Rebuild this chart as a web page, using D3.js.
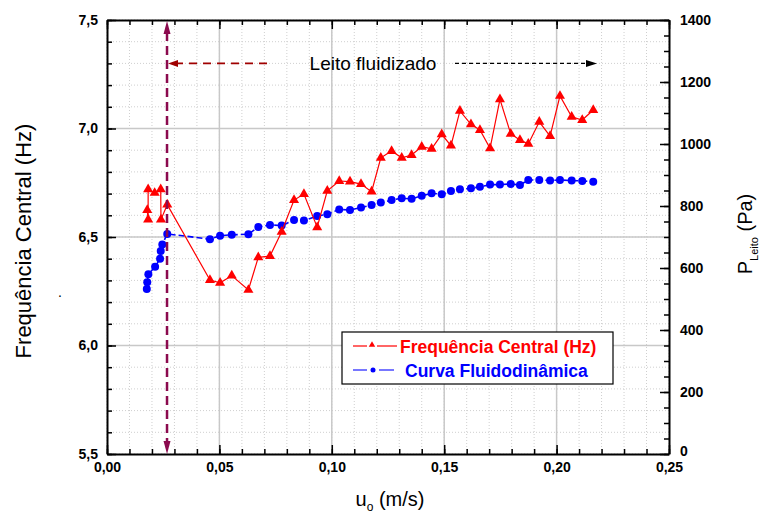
<!DOCTYPE html>
<html>
<head>
<meta charset="utf-8">
<script src="https://cdn.jsdelivr.net/npm/d3@7"></script>
<style>
  html, body { margin: 0; padding: 0; background: #fff; }
  svg { display: block; font-family: Arial, "Liberation Sans", sans-serif; }
</style>
</head>
<body>
<svg id="chart" width="761" height="516"></svg>
<script>
// Superficial velocity u0 (m/s) and measured series
const freqVelocity = [0.0179, 0.0183, 0.0183, 0.0212, 0.0239, 0.0240, 0.0268,
  0.0458, 0.0503, 0.0555, 0.0629, 0.0673, 0.0725, 0.0777, 0.0832, 0.0876, 0.0935,
  0.0980, 0.1033, 0.1081, 0.1130, 0.1177, 0.1218, 0.1266, 0.1311, 0.1355, 0.1400,
  0.1444, 0.1489, 0.1530, 0.1570, 0.1619, 0.1659, 0.1704, 0.1748, 0.1796, 0.1837,
  0.1874, 0.1923, 0.1971, 0.2015, 0.2067, 0.2114, 0.2163];
const centralFrequency = [6.624, 6.580, 6.720, 6.703, 6.720, 6.580, 6.649,
  6.302, 6.289, 6.322, 6.256, 6.406, 6.412, 6.524, 6.670, 6.698, 6.545,
  6.713, 6.758, 6.755, 6.744, 6.709, 6.865, 6.896, 6.865, 6.878, 6.916,
  6.906, 6.973, 6.921, 7.081, 7.019, 6.993, 6.909, 7.134, 6.975, 6.947,
  6.929, 7.031, 6.965, 7.150, 7.054, 7.039, 7.085];

const pressureVelocity = [0.0177, 0.0179, 0.0184, 0.0214, 0.0236, 0.0239, 0.0246, 0.0268,
  0.0458, 0.0503, 0.0555, 0.0629, 0.0673, 0.0725, 0.0777, 0.0832, 0.0876, 0.0935,
  0.0980, 0.1033, 0.1081, 0.1130, 0.1177, 0.1218, 0.1266, 0.1311, 0.1355, 0.1400,
  0.1444, 0.1489, 0.1530, 0.1570, 0.1619, 0.1659, 0.1704, 0.1748, 0.1796, 0.1837,
  0.1874, 0.1923, 0.1971, 0.2015, 0.2067, 0.2114, 0.2163];
const bedPressure = [532, 554, 580, 604, 630, 655, 676, 710,
  693, 704, 707, 709, 732, 739, 737, 755, 753, 768,
  773, 789, 787, 795, 803, 811, 819, 825, 823, 833,
  841, 838, 848, 854, 857, 862, 869, 869, 871, 868,
  884, 884, 882, 884, 882, 881, 878];

// Axis ticks
const xTicks = [0, 0.05, 0.10, 0.15, 0.20, 0.25];
const leftTicks = [5.5, 6.0, 6.5, 7.0, 7.5];
const rightTicks = [0, 200, 400, 600, 800, 1000, 1200, 1400];

// Minimum fluidization velocity and the fluidized-bed span
const umf = 0.0267;
const fluidizedLabel = "Leito fluidizado";
const fluidizedLabelLevel = 7.3;

const fmt = d3.format(".2f");
const comma = s => s.replace(".", ",");

const svg = d3.select("#chart");
const L = 107, R = 669, T = 20, B = 454;

const x = d3.scaleLinear().domain([0, 0.25]).range([L, R]);
const yL = d3.scaleLinear().domain([5.5, 7.5]).range([B, T]);
const yR = d3.scaleLinear().domain([0, 1400]).range([B, T]);

const xMinor = d3.range(0, 0.2501, 0.01).map(v => +v.toFixed(3));
const yMinor = d3.range(5.5, 7.501, 0.1).map(v => +v.toFixed(2));
const rMinor = d3.range(0, 1401, 50);

// Grid: dotted minor lines, solid major lines
const grid = svg.append("g");
grid.selectAll(".vmin").data(xMinor).join("line")
  .attr("x1", d => x(d)).attr("x2", d => x(d)).attr("y1", T).attr("y2", B)
  .attr("stroke", "#cfcfcf").attr("stroke-width", 1).attr("stroke-dasharray", "1,2");
grid.selectAll(".hmin").data(yMinor).join("line")
  .attr("x1", L).attr("x2", R).attr("y1", d => yL(d)).attr("y2", d => yL(d))
  .attr("stroke", "#cfcfcf").attr("stroke-width", 1).attr("stroke-dasharray", "1,2");
grid.selectAll(".vmaj").data(xTicks.slice(1, -1)).join("line")
  .attr("x1", d => x(d)).attr("x2", d => x(d)).attr("y1", T).attr("y2", B)
  .attr("stroke", "#c8c8c8").attr("stroke-width", 1.5);
grid.selectAll(".hmaj").data(leftTicks.slice(1, -1)).join("line")
  .attr("x1", L).attr("x2", R).attr("y1", d => yL(d)).attr("y2", d => yL(d))
  .attr("stroke", "#c8c8c8").attr("stroke-width", 1.5);

// Axes
function styleAxis(g) {
  g.selectAll(".domain").attr("stroke", "#000").attr("stroke-width", 2);
  g.selectAll(".tick line").attr("stroke", "#000").attr("stroke-width", 1.5);
  g.selectAll("text").attr("font-size", 14).attr("font-weight", "bold").attr("fill", "#000");
}
function minorAxis(axis, pos, vals, size) {
  svg.append("g").attr("transform", pos)
    .call(axis.tickValues(vals).tickSize(size).tickFormat(""))
    .call(g => { g.select(".domain").remove(); g.selectAll(".tick line").attr("stroke", "#000").attr("stroke-width", 1.5); });
}
minorAxis(d3.axisBottom(x), `translate(0,${B})`, xMinor, -5);
minorAxis(d3.axisTop(x), `translate(0,${T})`, xMinor, -5);
minorAxis(d3.axisLeft(yL), `translate(${L},0)`, yMinor, -5);
minorAxis(d3.axisRight(yR), `translate(${R},0)`, rMinor, -5);

svg.append("g").attr("transform", `translate(0,${B})`)
  .call(d3.axisBottom(x).tickValues(xTicks).tickSizeInner(-9).tickSizeOuter(0).tickPadding(8)
    .tickFormat(d => comma(fmt(d))))
  .call(styleAxis);
svg.append("g").attr("transform", `translate(0,${T})`)
  .call(d3.axisTop(x).tickValues(xTicks).tickSizeInner(-9).tickSizeOuter(0).tickFormat(""))
  .call(styleAxis);
svg.append("g").attr("transform", `translate(${L},0)`)
  .call(d3.axisLeft(yL).tickValues(leftTicks).tickSizeInner(-9).tickSizeOuter(0).tickPadding(9)
    .tickFormat(d => comma(d3.format(".1f")(d))))
  .call(styleAxis);
svg.append("g").attr("transform", `translate(${R},0)`)
  .call(d3.axisRight(yR).tickValues(rightTicks).tickSizeInner(-9).tickSizeOuter(0).tickPadding(11)
    .tickFormat(d3.format("d")))
  .call(styleAxis)
  .call(g => g.selectAll(".tick").filter(d => d === 0).select("text").attr("dy", "0.1em"));

// Axis titles
svg.append("text")
  .attr("transform", `translate(31,${(T + B) / 2 + 4}) rotate(-90)`)
  .attr("text-anchor", "middle").attr("font-size", 22).attr("fill", "#000")
  .text("Frequência Central (Hz)");
svg.append("text").attr("x", 58).attr("y", 297).attr("font-size", 14).attr("fill", "#000").text(".");

const xt = svg.append("text").attr("x", 390).attr("y", 506)
  .attr("text-anchor", "middle").attr("font-size", 20).attr("fill", "#000");
xt.append("tspan").text("u");
xt.append("tspan").attr("font-size", 12).attr("dy", 5).text("o");
xt.append("tspan").attr("dy", -5).text(" (m/s)");

const rt = svg.append("text")
  .attr("transform", `translate(752,${(T + B) / 2 - 3}) rotate(-90)`)
  .attr("text-anchor", "middle").attr("font-size", 20).attr("fill", "#000");
rt.append("tspan").text("P");
rt.append("tspan").attr("font-size", 11).attr("dy", 6).text("Leito");
rt.append("tspan").attr("dy", -6).text(" (Pa)");

// Series
const plot = svg.append("g");
const redPts = freqVelocity.map((v, i) => [x(v), yL(centralFrequency[i])]);
const bluePts = pressureVelocity.map((v, i) => [x(v), yR(bedPressure[i])]);

plot.append("path").attr("d", d3.line()(bluePts))
  .attr("fill", "none").attr("stroke", "#0000ff").attr("stroke-width", 1.6)
  .attr("stroke-dasharray", "6,3");
plot.selectAll(".bdot").data(bluePts).join("circle")
  .attr("cx", d => d[0]).attr("cy", d => d[1]).attr("r", 4).attr("fill", "#0000ff");

plot.append("path").attr("d", d3.line()(redPts))
  .attr("fill", "none").attr("stroke", "#ff0000").attr("stroke-width", 1.2);
const tri = d3.symbol().type(d3.symbolTriangle).size(44);
plot.selectAll(".rtri").data(redPts).join("path")
  .attr("d", tri).attr("transform", d => `translate(${d[0]},${d[1]})`).attr("fill", "#ff0000");

// Minimum fluidization marker
const purple = "#8b0a4e";
svg.append("line").attr("x1", x(umf)).attr("x2", x(umf))
  .attr("y1", T + 12).attr("y2", B - 12)
  .attr("stroke", purple).attr("stroke-width", 2.5).attr("stroke-dasharray", "9,5");
svg.append("path").attr("fill", purple)
  .attr("d", `M${x(umf)},${T + 1} L${x(umf) - 3.5},${T + 14} L${x(umf) + 3.5},${T + 14} Z`);
svg.append("path").attr("fill", purple)
  .attr("d", `M${x(umf)},${B} L${x(umf) - 3.5},${B - 13} L${x(umf) + 3.5},${B - 13} Z`);

// Fluidized-bed span annotation
const ay = yL(fluidizedLabelLevel);
svg.append("line").attr("x1", x(umf) + 8).attr("x2", 273).attr("y1", ay).attr("y2", ay)
  .attr("stroke", "#a00000").attr("stroke-width", 1.6).attr("stroke-dasharray", "8,6");
svg.append("path").attr("fill", "#a00000")
  .attr("d", `M${x(umf) + 1},${ay} L${x(umf) + 11},${ay - 3.5} L${x(umf) + 11},${ay + 3.5} Z`);
svg.append("text").attr("x", 373).attr("y", ay + 7).attr("text-anchor", "middle")
  .attr("font-size", 19).attr("fill", "#000").text(fluidizedLabel);
svg.append("line").attr("x1", 455).attr("x2", 588).attr("y1", ay).attr("y2", ay)
  .attr("stroke", "#000").attr("stroke-width", 1.2).attr("stroke-dasharray", "4,3");
svg.append("path").attr("fill", "#000")
  .attr("d", `M${597},${ay} L${586},${ay - 3.5} L${586},${ay + 3.5} Z`);

// Legend
const lg = svg.append("g");
lg.append("rect").attr("x", 342).attr("y", 332).attr("width", 271).attr("height", 52)
  .attr("fill", "#fff").attr("stroke", "#000").attr("stroke-width", 1.2);
lg.append("line").attr("x1", 353).attr("x2", 367).attr("y1", 346).attr("y2", 346).attr("stroke", "#ff0000").attr("stroke-width", 1.2);
lg.append("line").attr("x1", 377).attr("x2", 397).attr("y1", 346).attr("y2", 346).attr("stroke", "#ff0000").attr("stroke-width", 1.2);
lg.append("path").attr("d", d3.symbol().type(d3.symbolTriangle).size(18)).attr("transform", "translate(372,345)").attr("fill", "#ff0000");
lg.append("text").attr("x", 400).attr("y", 353).attr("font-size", 17.5).attr("font-weight", "bold")
  .attr("fill", "#ff0000").text("Frequência Central (Hz)");
lg.append("line").attr("x1", 353).attr("x2", 367).attr("y1", 370).attr("y2", 370).attr("stroke", "#4a4aff").attr("stroke-width", 1.5);
lg.append("line").attr("x1", 379).attr("x2", 394).attr("y1", 370).attr("y2", 370).attr("stroke", "#4a4aff").attr("stroke-width", 1.5);
lg.append("circle").attr("cx", 373).attr("cy", 370).attr("r", 2.5).attr("fill", "#0000ff");
lg.append("text").attr("x", 405).attr("y", 377).attr("font-size", 17.5).attr("font-weight", "bold")
  .attr("fill", "#0000ff").text("Curva Fluidodinâmica");
</script>
</body>
</html>
